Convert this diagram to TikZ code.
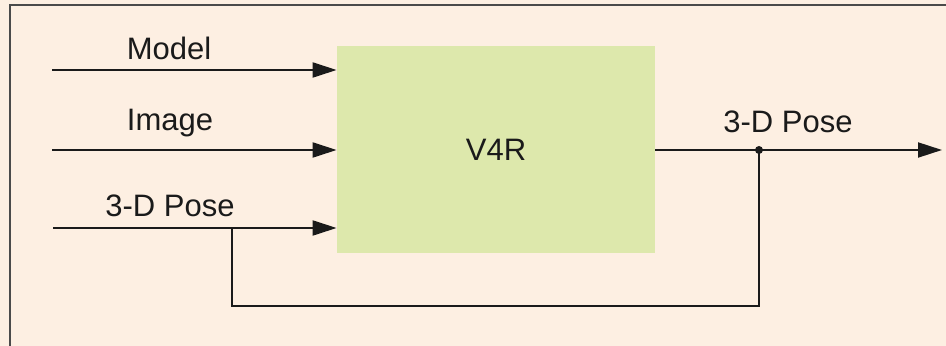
\documentclass[tikz,border=0pt]{standalone}
\usepackage{fontspec}
\setmainfont{Liberation Sans}
\usetikzlibrary{arrows.meta}
\definecolor{paper}{HTML}{FDEFE2}
\definecolor{blockgreen}{HTML}{DDE8AC}
\definecolor{ink}{HTML}{1A1A1A}
\definecolor{framegray}{HTML}{4A4A4A}
\begin{document}
\begin{tikzpicture}[x=0.5pt,y=-0.5pt,
  font=\fontsize{15.5}{18}\selectfont,
  wire/.style={draw=ink, line width=1pt},
  arr/.style={wire, -{Triangle[length=12pt,width=7.5pt]}},
  lbl/.style={anchor=base, text=ink, inner sep=0pt}]
% page background and frame
\fill[paper] (0,0) rectangle (946,346);
\useasboundingbox (0,0) rectangle (946,346);
\begin{scope}
  \clip (0,0) rectangle (946,346);
  \draw[draw=framegray, line width=1.1pt] (10,5) rectangle (990,390);
\end{scope}
% processing block
\node[fill=blockgreen, minimum width=159pt, minimum height=103.5pt, inner sep=0pt, text=ink] (v4r) at (496,149.5) {V4R};
% signal end points
\coordinate (modelIn) at (52,70);
\coordinate (imageIn) at (52,150);
\coordinate (poseIn) at (53,228);
\coordinate (tap) at (232,228);
\coordinate (join) at (759,150);
\coordinate (out) at (942,150);
% inputs
\draw[arr] (modelIn) -- (modelIn -| v4r.west);
\draw[arr] (imageIn) -- (imageIn -| v4r.west);
\draw[arr] (poseIn) -- (poseIn -| v4r.west);
% output and feedback loop
\draw[arr] (v4r.east |- join) -- (out);
\draw[wire] (tap) -- ++(0,78) -| (join);
\fill[ink] (join) circle (2pt);
% labels
\node[lbl] (lModel) at (169,60) {Model};
\node[lbl] (lImage) at (170,131) {Image};
\node[lbl] (lPoseIn) at (170,217) {3-D Pose};
\node[lbl] (lPoseOut) at (788,133) {3-D Pose};
\end{tikzpicture}
\end{document}
